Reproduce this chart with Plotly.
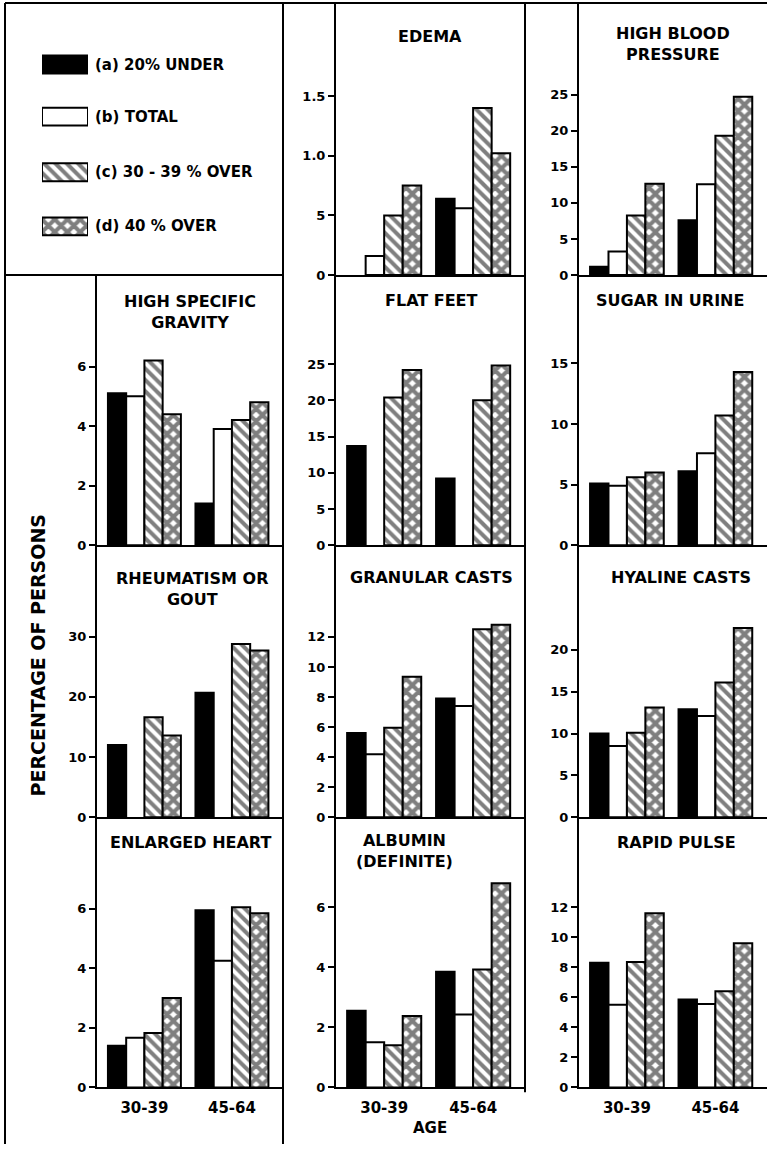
import plotly.graph_objects as go

# ---------------- data ----------------
categories = ["30-39", "45-64"]
series_names = ["(a) 20% UNDER", "(b) TOTAL", "(c) 30 - 39 % OVER", "(d) 40 % OVER"]

conditions = ["EDEMA", "HIGH BLOOD<br>PRESSURE", "HIGH SPECIFIC<br>GRAVITY", "FLAT FEET",
              "SUGAR IN URINE", "RHEUMATISM OR<br>GOUT", "GRANULAR CASTS", "HYALINE CASTS",
              "ENLARGED HEART", "ALBUMIN<br>(DEFINITE)", "RAPID PULSE"]

under20_3039 = [None, 1.15, 5.1, 13.7, 5.1, 12.0, 5.6, 10.0, 1.4, 2.55, 8.3]
under20_4564 = [0.64, 7.6, 1.4, 9.2, 6.1, 20.7, 7.9, 12.9, 5.95, 3.85, 5.85]
total_3039 = [0.16, 3.25, 5.0, None, 4.9, None, 4.2, 8.5, 1.67, 1.5, 5.5]
total_4564 = [0.56, 12.6, 3.9, None, 7.6, None, 7.4, 12.1, 4.25, 2.43, 5.55]
over30_3039 = [0.5, 8.25, 6.2, 20.4, 5.6, 16.6, 5.95, 10.1, 1.83, 1.4, 8.35]
over30_4564 = [1.4, 19.3, 4.2, 20.0, 10.7, 28.8, 12.5, 16.1, 6.05, 3.93, 6.4]
over40_3039 = [0.75, 12.65, 4.4, 24.2, 6.0, 13.6, 9.35, 13.1, 3.0, 2.38, 11.6]
over40_4564 = [1.02, 24.7, 4.8, 24.8, 14.3, 27.7, 12.8, 22.6, 5.85, 6.8, 9.6]

tick_values = [[0, 0.5, 1.0, 1.5], [0, 5, 10, 15, 20, 25], [0, 2, 4, 6], [0, 5, 10, 15, 20, 25],
               [0, 5, 10, 15], [0, 10, 20, 30], [0, 2, 4, 6, 8, 10, 12], [0, 5, 10, 15, 20],
               [0, 2, 4, 6], [0, 2, 4, 6], [0, 2, 4, 6, 8, 10, 12]]
tick_labels = [["0", "5", "1.0", "1.5"]] + [[str(v) for v in tv] for tv in tick_values[1:]]

# ---------------- layout geometry (pixels) ----------------
W, H = 767, 1152
def fx(x): return x / W
def fy(y): return 1 - y / H

col_px = [(97, 283), (336, 525), (579, 767)]
row_px = [(3, 277), (277, 549), (549, 823), (823, 1095)]
cells = [(0, 1), (0, 2), (1, 0), (1, 1), (1, 2), (2, 0), (2, 1), (2, 2), (3, 0), (3, 1), (3, 2)]
y_max = [2.28, 37.7, 9.07, 37.3, 22.3, 45.2, 18.1, 32.5, 9.07, 9.0, 18.0]
title_pos = [(430, 37), (673, 44), (190, 314), (431, 303), (670, 303), (192, 593),
             (431, 582), (681, 582), (190, 848), (404, 857), (676, 848)]

group_pos = [[1.1, 5.9], [2.1, 6.9], [3.1, 7.9], [4.1, 8.9]]

FONT = "DejaVu Sans"
styles = [
    dict(color="black", line=dict(color="black", width=2)),
    dict(color="white", line=dict(color="black", width=2)),
    dict(color="white", line=dict(color="black", width=2),
         pattern=dict(shape="\\", fgcolor="black", bgcolor="white", size=8, solidity=0.5, fillmode="overlay")),
    dict(color="white", line=dict(color="black", width=2),
         pattern=dict(shape="x", fgcolor="black", bgcolor="white", size=9, solidity=0.7, fillmode="overlay")),
]
series_vals = [(under20_3039, under20_4564), (total_3039, total_4564),
               (over30_3039, over30_4564), (over40_3039, over40_4564)]

fig = go.Figure()
axes_layout = {}
annotations = []
for i, (r, c) in enumerate(cells):
    n = i + 1
    sfx = "" if n == 1 else str(n)
    for s in range(4):
        v1, v2 = series_vals[s]
        fig.add_trace(go.Bar(x=group_pos[s], y=[v1[i], v2[i]], width=1, marker=styles[s],
                             name=series_names[s], showlegend=False, xaxis="x" + sfx, yaxis="y" + sfx))
    x0, x1 = col_px[c]
    t0, b0 = row_px[r]
    axes_layout["xaxis" + sfx] = dict(
        domain=[fx(x0), fx(x1)], range=[0, 10.2], anchor="y" + sfx,
        showline=True, linecolor="black", linewidth=2, showgrid=False, zeroline=False,
        ticks="", showticklabels=(r == 3), tickvals=[2.6, 7.4], ticktext=categories,
        ticklabelstandoff=6, tickfont=dict(family=FONT, size=15, color="black", weight="bold"))
    axes_layout["yaxis" + sfx] = dict(
        domain=[fy(b0), fy(t0)], range=[0, y_max[i]], anchor="x" + sfx,
        showline=True, linecolor="black", linewidth=2, showgrid=False, zeroline=False,
        ticks="outside", ticklen=6, tickwidth=2, tickcolor="black",
        tickvals=tick_values[i], ticktext=tick_labels[i],
        tickfont=dict(family=FONT, size=13, color="black", weight="bold"))
    tx, ty = title_pos[i]
    annotations.append(dict(text=conditions[i], x=fx(tx), y=fy(ty), xref="paper", yref="paper",
                            xanchor="center", yanchor="middle", showarrow=False, align="center",
                            font=dict(family=FONT, size=16, color="black", weight="bold")))

# legend panel drawn with its own hidden axes
leg_y = [65, 117.5, 173.5, 228]
for s in range(4):
    fig.add_trace(go.Bar(x=[1], y=[leg_y[s]], base=0, orientation="h", width=18, marker=styles[s],
                         showlegend=False, xaxis="x12", yaxis="y12"))
    annotations.append(dict(text=series_names[s], x=fx(93), y=fy(leg_y[s]), xref="paper", yref="paper",
                            xanchor="left", yanchor="middle", showarrow=False,
                            font=dict(family=FONT, size=15, color="black", weight="bold")))
axes_layout["xaxis12"] = dict(domain=[fx(42), fx(88)], range=[0, 1], anchor="y12", visible=False)
axes_layout["yaxis12"] = dict(domain=[fy(277), fy(3)], range=[277, 3], anchor="x12", visible=False)

annotations.append(dict(text="PERCENTAGE OF PERSONS", x=fx(38), y=fy(660), xref="paper", yref="paper",
                        textangle=-90, showarrow=False, xanchor="center", yanchor="middle",
                        font=dict(family=FONT, size=19, color="black", weight="bold")))
annotations.append(dict(text="AGE", x=fx(430), y=fy(1136), xref="paper", yref="paper",
                        showarrow=False, xanchor="center", yanchor="middle",
                        font=dict(family=FONT, size=15, color="black", weight="bold")))

frame = [((5, 3), (5, 1152)), ((5, 3), (767, 3)), ((283, 3), (283, 1152)),
         ((525, 3), (525, 1100)), ((5, 277), (283, 277))]
shapes = [dict(type="line", xref="paper", yref="paper", x0=fx(a[0]), y0=fy(a[1]), x1=fx(b[0]), y1=fy(b[1]),
               line=dict(color="black", width=2)) for a, b in frame]

fig.update_layout(width=W, height=H, margin=dict(l=0, r=0, t=0, b=0),
                  paper_bgcolor="white", plot_bgcolor="white", barmode="overlay",
                  annotations=annotations, shapes=shapes, **axes_layout)
fig.write_html("out.html", config={"displayModeBar": False},
               post_script="document.body.style.margin='0';document.body.style.overflow='hidden';")
